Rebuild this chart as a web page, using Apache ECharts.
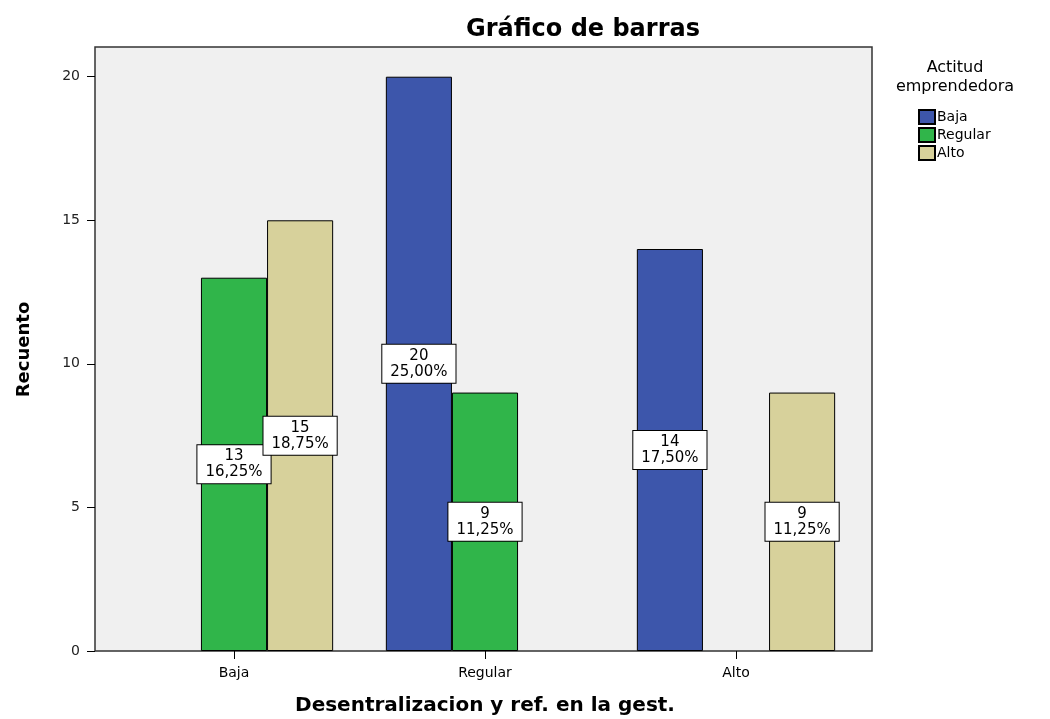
<!DOCTYPE html>
<html>
<head>
<meta charset="utf-8">
<script src="https://cdn.jsdelivr.net/npm/echarts@6/dist/echarts.min.js"></script>
<style>
  html, body { margin: 0; padding: 0; background: #fff; }
  #chart { width: 1050px; height: 719px; }
</style>
</head>
<body>
<div id="chart"></div>
<script>
var categories = ['Baja', 'Regular', 'Alto'];
var seriesNames = ['Baja', 'Regular', 'Alto'];
var bajaValues = [null, 20, 14];
var regularValues = [13, 9, null];
var altoValues = [15, null, 9];
var yTicks = [0, 5, 10, 15, 20];
var total = 80;

var colors = ['#3d56ab', '#30b54a', '#d7d19b'];
var font = 'DejaVu Sans';

var chartDom = document.getElementById('chart');
var myChart = echarts.init(chartDom);

function pctLabel(p) {
    var pct = (p.value / total * 100).toFixed(2).replace('.', ',');
    return p.value + '\n' + pct + '%';
}

function makeSeries(name, data, color) {
    return {
        name: name,
        type: 'bar',
        data: data,
        barGap: '0%',
        barCategoryGap: '21%',
        itemStyle: { color: color, borderColor: '#000', borderWidth: 1 },
        label: {
            show: true,
            position: 'inside',
            formatter: pctLabel,
            color: '#000',
            fontFamily: font,
            fontSize: 15,
            lineHeight: 16,
            backgroundColor: '#fff',
            borderColor: '#000',
            borderWidth: 1,
            padding: [3, 8]
        }
    };
}

var option = {
    animation: false,
    title: [
        {
            text: 'Gráfico de barras',
            left: 578,
            top: 13,
            textAlign: 'center',
            textStyle: { fontFamily: font, fontSize: 24, fontWeight: 'bold', color: '#000' }
        },
        {
            text: 'Actitud\nemprendedora',
            left: 950,
            top: 53,
            textAlign: 'center',
            textStyle: { fontFamily: font, fontSize: 16, fontWeight: 'normal', color: '#000', lineHeight: 19 }
        }
    ],
    legend: {
        orient: 'vertical',
        left: 918,
        top: 109,
        padding: 0,
        itemWidth: 16,
        itemHeight: 14,
        itemGap: 2,
        icon: 'rect',
        data: seriesNames,
        textStyle: { fontFamily: font, fontSize: 14, lineHeight: 14, color: '#000', padding: [0, 0, 0, -3] }
    },
    graphic: {
        elements: [
            {
                type: 'rect',
                z: -10,
                silent: true,
                shape: { x: 95, y: 47, width: 777, height: 604 },
                style: { fill: '#f0f0f0', stroke: '#333', lineWidth: 1.5 }
            }
        ]
    },
    grid: {
        left: 108.5,
        right: 188.5,
        top: 48,
        bottom: 68,
        outerBoundsMode: 'none',
        containLabel: false
    },
    xAxis: {
        type: 'category',
        data: categories,
        name: 'Desentralizacion y ref. en la gest.',
        nameLocation: 'middle',
        nameGap: 45,
        nameTextStyle: { fontFamily: font, fontSize: 20, fontWeight: 'bold', color: '#000' },
        axisLine: { show: false },
        axisTick: { show: true, alignWithLabel: true, length: 8, lineStyle: { color: '#000' } },
        axisLabel: { fontFamily: font, fontSize: 14, color: '#000', margin: 15 }
    },
    yAxis: {
        type: 'value',
        min: 0,
        max: 21,
        offset: 13.5,
        name: 'Recuento',
        nameLocation: 'middle',
        nameGap: 62,
        nameTextStyle: { fontFamily: font, fontSize: 18, fontWeight: 'bold', color: '#000' },
        axisLine: { show: false },
        axisTick: { show: true, length: 8, customValues: yTicks, lineStyle: { color: '#000' } },
        axisLabel: { fontFamily: font, fontSize: 14, color: '#222', margin: 15, customValues: yTicks },
        splitLine: { show: false }
    },
    series: [
        makeSeries(seriesNames[0], bajaValues, colors[0]),
        makeSeries(seriesNames[1], regularValues, colors[1]),
        makeSeries(seriesNames[2], altoValues, colors[2])
    ]
};

myChart.setOption(option);
</script>
</body>
</html>
